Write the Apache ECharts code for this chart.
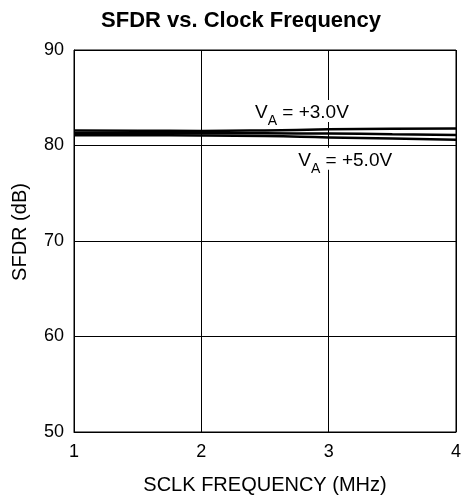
<!DOCTYPE html>
<html><head><meta charset="utf-8">
<script src="https://cdn.jsdelivr.net/npm/echarts@6/dist/echarts.min.js"></script>
<style>html,body{margin:0;padding:0;background:#fff}#c{width:464px;height:500px}</style>
</head><body><div id="c"></div>
<script>
const freq = [1, 1.5, 2, 2.5, 3, 3.5, 4];
const sfdr3V = [81.58, 81.55, 81.53, 81.58, 81.69, 81.75, 81.79];
const sfdrMid = [81.32, 81.3, 81.27, 81.27, 81.25, 81.18, 81.11];
const sfdr5V = [81.08, 81.07, 81.06, 81.0, 80.85, 80.72, 80.59];
const xTicks = [1, 2, 3, 4];
const yTicks = [50, 60, 70, 80, 90];
const label3V = {x: 2.79, y: 83.6, sub: 'A', rest: ' = +3.0V'};
const label5V = {x: 3.13, y: 78.6, sub: 'A', rest: ' = +5.0V'};

const font = 'Liberation Sans, Arial, Helvetica, sans-serif';
const chart = echarts.init(document.getElementById('c'), null, {renderer: 'canvas'});
function mk(l) {
  return {
    coord: [l.x, l.y],
    symbolSize: 0,
    label: {
      show: true, position: 'inside',
      formatter: '{v|V}{s|' + l.sub + '}{v|' + l.rest + '}',
      backgroundColor: '#fff', padding: [0, 2],
      rich: {
        v: {fontSize: 19, color: '#000', fontFamily: font, verticalAlign: 'bottom', lineHeight: 22},
        s: {fontSize: 14, color: '#000', fontFamily: font, verticalAlign: 'bottom', lineHeight: 22, padding: [0,0,-6,0]}
      }
    }
  };
}
const lineSeries = (data, mp) => ({
  type: 'line', data: freq.map((f,i)=>[f, data[i]]), smooth: true, symbol: 'none',
  lineStyle: {color: '#000', width: 2.5}, z: 3,
  markPoint: mp ? {data: [mk(mp)], z: 5} : undefined
});
chart.setOption({
  animation: false,
  backgroundColor: '#fff',
  title: {text: 'SFDR vs. Clock Frequency', left: 236, top: 5, textAlign: 'center',
    textStyle: {fontFamily: font, fontWeight: 'bold', fontSize: 22, color: '#000'}},
  grid: {left: 74, right: 7, top: 50, bottom: 68, show: true, borderColor: '#000', borderWidth: 1},
  xAxis: {type: 'value', min: xTicks[0], max: xTicks[xTicks.length-1], interval: 1,
    name: 'SCLK FREQUENCY (MHz)', nameLocation: 'middle', nameGap: 43,
    nameTextStyle: {fontFamily: font, fontSize: 20, color: '#000'},
    axisLine: {show: true, lineStyle: {color: '#000', width: 1}}, axisTick: {show: false},
    axisLabel: {fontFamily: font, fontSize: 18, color: '#000', margin: 11},
    splitLine: {show: true, lineStyle: {color: '#000', width: 1}}},
  yAxis: {type: 'value', min: yTicks[0], max: yTicks[yTicks.length-1], interval: 10,
    name: 'SFDR (dB)', nameLocation: 'middle', nameGap: 44,
    nameTextStyle: {fontFamily: font, fontSize: 20, color: '#000', padding: [0, 0, 0, 18]},
    axisLine: {show: true, lineStyle: {color: '#000', width: 1}}, axisTick: {show: false},
    axisLabel: {fontFamily: font, fontSize: 18, color: '#000', margin: 10},
    splitLine: {show: true, lineStyle: {color: '#000', width: 1}}},
  series: [
    lineSeries(sfdr3V, label3V),
    lineSeries(sfdrMid, null),
    lineSeries(sfdr5V, label5V)
  ]
});
</script></body></html>
